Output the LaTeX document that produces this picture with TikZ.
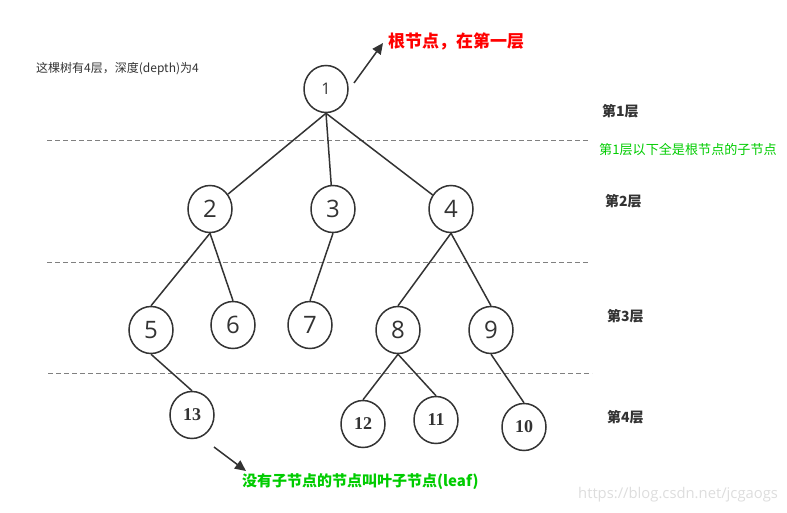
\documentclass[tikz,border=0pt]{standalone}
\usepackage{fontspec}
\setmainfont{Open Sans}
\newfontfamily\cjk{Noto Sans CJK SC}
\newfontfamily\serifnum{Liberation Serif}
\usetikzlibrary{shapes.geometric,arrows.meta}
\definecolor{ink}{HTML}{333333}
\definecolor{dashgray}{HTML}{808080}
\definecolor{leafgreen}{HTML}{00CC00}
\definecolor{rootred}{HTML}{FF0000}
\definecolor{wmark}{HTML}{DDDDDD}
\tikzset{
  tnode/.style={ellipse, draw=ink, line width=1.5pt, minimum width=44pt, minimum height=47pt, inner sep=0pt, text=ink, font=\fontsize{24}{24}\selectfont},
  rootnode/.style={tnode, font=\fontsize{16}{16}\selectfont},
  leafnode/.style={tnode, font=\serifnum\bfseries\fontsize{18}{18}\selectfont},
  edge/.style={draw=ink, line width=1.5pt},
  levelline/.style={draw=dashgray, line width=0.8pt, dash pattern=on 5pt off 3pt},
  levellabel/.style={anchor=west, inner sep=0pt, text=ink, font=\cjk\bfseries\fontsize{14}{14}\selectfont},
  pointer/.style={draw=ink, line width=1.5pt, -{Triangle[length=11pt, width=10pt]}},
}
\begin{document}
\begin{tikzpicture}[x=1pt,y=-1pt]
\useasboundingbox (0,0) rectangle (787,513);
% level separators
\coordinate (l1a) at (47,140); \coordinate (l1b) at (590,140);
\coordinate (l2a) at (47,262); \coordinate (l2b) at (590,262);
\coordinate (l3a) at (48,373); \coordinate (l3b) at (592,373);
\draw[levelline] (l1a) -- (l1b);
\draw[levelline] (l2a) -- (l2b);
\draw[levelline] (l3a) -- (l3b);
% nodes
\node[rootnode] (n1) at (326,89) {1};
\node[tnode] (n2) at (210,209) {2};
\node[tnode] (n3) at (333,209) {3};
\node[tnode] (n4) at (451,209) {4};
\node[tnode] (n5) at (151,330) {5};
\node[tnode] (n6) at (233,325) {6};
\node[tnode] (n7) at (310,325) {7};
\node[tnode] (n8) at (398,330) {8};
\node[tnode] (n9) at (491,330) {9};
\node[leafnode] (n13) at (192,415) {13};
\node[leafnode] (n12) at (363,424) {12};
\node[leafnode] (n11) at (436,420) {11};
\node[leafnode] (n10) at (524,427) {10};
% edges
\draw[edge] (n1.south) -- (n2);
\draw[edge] (n1.south) -- (n3);
\draw[edge] (n1.south) -- (n4);
\draw[edge] (n2.south) -- (n5.north);
\draw[edge] (n2.south) -- (n6.north);
\draw[edge] (n3.south) -- (n7.north);
\draw[edge] (n4.south) -- (n8.north);
\draw[edge] (n4.south) -- (n9.north);
\draw[edge] (n5.south) -- (n13.north);
\draw[edge] (n8.south) -- (n12.north);
\draw[edge] (n8.south) -- (n11.north);
\draw[edge] (n9.south) -- (n10.north);
% texts
\node[anchor=west, inner sep=0pt, text=ink, font=\cjk\fontsize{12}{12}\selectfont] (info) at (36,69) {这棵树有4层，深度(depth)为4};
\node[anchor=west, inner sep=0pt, text=rootred, font=\cjk\bfseries\fontsize{17}{17}\selectfont] (rootlbl) at (388,41) {根节点，在第一层};
\node[levellabel] (lv1) at (602,111) {第1层};
\node[anchor=west, inner sep=0pt, text=leafgreen, font=\cjk\fontsize{13.1}{13.1}\selectfont] (sub) at (599,150) {第1层以下全是根节点的子节点};
\node[levellabel] (lv2) at (605,201) {第2层};
\node[levellabel] (lv3) at (607,316) {第3层};
\node[levellabel] (lv4) at (607,417) {第4层};
\node[anchor=west, inner sep=0pt, text=leafgreen, font=\cjk\bfseries\fontsize{15}{15}\selectfont] (leaflbl) at (242,482) {没有子节点的节点叫叶子节点(leaf)};
\node[anchor=west, inner sep=0pt, text=wmark, font=\fontsize{14.8}{14.8}\selectfont] (wm) at (578,495) {https://blog.csdn.net/jcgaogs};
% pointers
\coordinate (p1s) at (354,83); \coordinate (p1e) at (383,43);
\coordinate (p2s) at (214,447); \coordinate (p2e) at (246,471);
\draw[pointer] (p1s) -- (p1e);
\draw[pointer] (p2s) -- (p2e);
\end{tikzpicture}
\end{document}
